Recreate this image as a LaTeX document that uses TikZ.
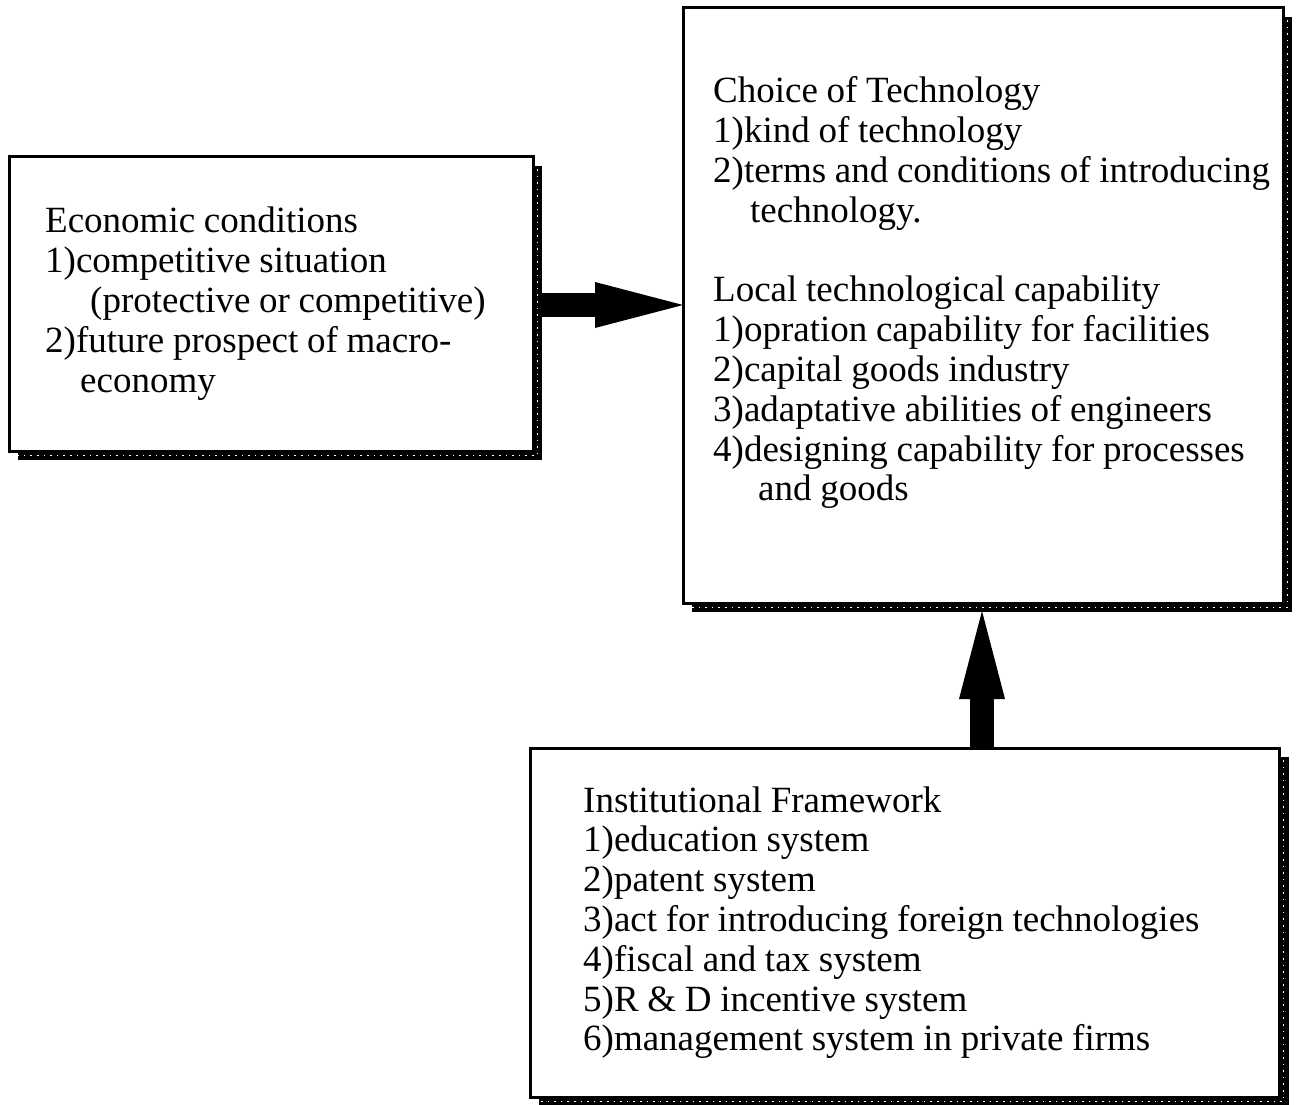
\documentclass[tikz,border=0pt]{standalone}
\usepackage{fontspec}
\setmainfont{Liberation Serif}
\usetikzlibrary{arrows.meta}
\newcommand\mybxfont{\fontsize{37}{39.8}\selectfont}
\tikzset{
  x=1pt, y=-1pt,
  box/.style={draw=black, line width=3pt, fill=white, inner sep=0pt, outer sep=0pt},
  shadowband/.style={fill=black},
  dotline/.style={white, line width=1.6pt, dash pattern=on 1.6pt off 5pt},
  txt/.style={anchor=base west, inner sep=0pt, text width=640pt, align=left,
    font=\mybxfont, execute at begin node={\spaceskip=0.235em\xspaceskip=0.3em\relax}},
  fatarrow/.style={line width=24pt, -{Triangle[width=46pt,length=88pt,line width=0pt]}},
}
\begin{document}
\begin{tikzpicture}
\useasboundingbox (0,0) rectangle (1299,1105);
% shadows
\fill[shadowband] (18,166) rectangle (542,460);
\fill[shadowband] (692,17) rectangle (1292,612);
\fill[shadowband] (539,757) rectangle (1289,1106);
% boxes
\node[box, minimum width=524pt, minimum height=294pt, anchor=north west] (econ) at (9,157) {};
\node[box, minimum width=600pt, minimum height=595pt, anchor=north west] (tech) at (683,8) {};
\node[box, minimum width=749pt, minimum height=349pt, anchor=north west] (inst) at (530,748) {};
% dotted texture in the shadows
\draw[dotline] (econ.north east) ++(4.5,12) -- ([xshift=4.5pt,yshift=-4.5pt]econ.south east) -- ([yshift=-4.5pt]econ.south west -| 18,0);
\draw[dotline] (tech.north east) ++(4.5,12) -- ([xshift=4.5pt,yshift=-4.5pt]tech.south east) -- ([yshift=-4.5pt]tech.south west -| 692,0);
\draw[dotline] (inst.north east) ++(4.5,12) -- ([xshift=4.5pt,yshift=-4.5pt]inst.south east) -- ([yshift=-4.5pt]inst.south west -| 539,0);
% texts
\node[txt] (econtxt) at (45,233) {Economic conditions\\
1)competitive situation\\
\hspace*{45pt}(protective or competitive)\\
2)future prospect of macro-\\
\hspace*{35pt}economy};
\node[txt] (techtxt) at (713,103) {Choice of Technology\\
1)kind of technology\\
2)terms and conditions of introducing\\
\hspace*{37pt}technology.\\[39.8pt]
Local technological capability\\
1)opration capability for facilities\\
2)capital goods industry\\
3)adaptative abilities of engineers\\
4)designing capability for processes\\
\hspace*{45pt}and goods};
\node[txt] (insttxt) at (583,812) {Institutional Framework\\
1)education system\\
2)patent system\\
3)act for introducing foreign technologies\\
4)fiscal and tax system\\
5)R \& D incentive system\\
6)management system in private firms};
% connectors
\coordinate (htail) at (541,305);
\coordinate (vhead) at (982,611);
\draw[fatarrow] (htail) -- (htail -| tech.west);
\draw[fatarrow] (vhead |- inst.north) -- (vhead);
\end{tikzpicture}
\end{document}
